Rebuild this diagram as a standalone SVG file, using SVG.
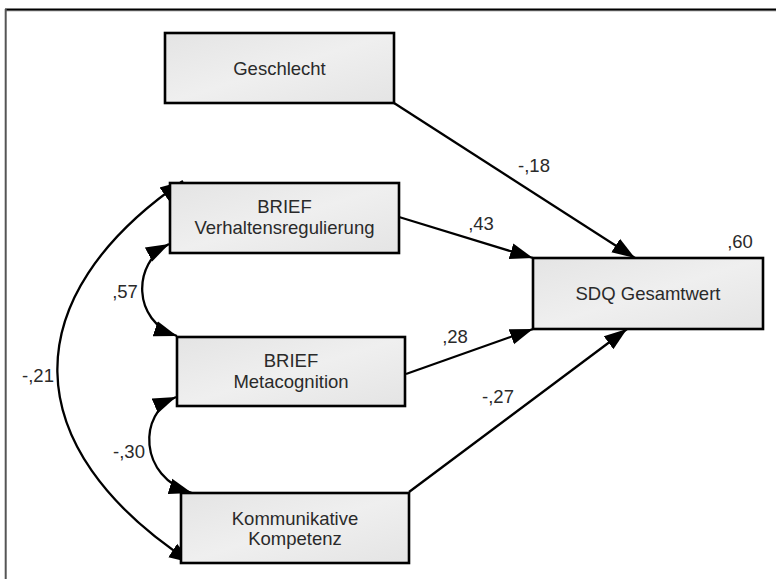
<svg xmlns="http://www.w3.org/2000/svg" width="776" height="579" viewBox="0 0 776 579">
<style>
.box{fill:url(#g);stroke:#000;stroke-width:2.6}
.t{font-family:"Liberation Sans",Arial,sans-serif;font-size:18.5px;fill:#2a2a2a;text-anchor:middle}
.c{fill:none;stroke:#000;stroke-width:2.3}
</style>
<defs>
<linearGradient id="g" x1="0" y1="0" x2="1" y2="1">
<stop offset="0" stop-color="#e4e4e4"/>
<stop offset="0.5" stop-color="#efefef"/>
<stop offset="1" stop-color="#e4e4e4"/>
</linearGradient>
<marker id="ah" markerUnits="userSpaceOnUse" viewBox="0 -9 24 18" refX="23" refY="0" markerWidth="24" markerHeight="18" orient="auto-start-reverse">
<path d="M0,-8 L23,0 L0,8 z" fill="#000"/>
</marker>
</defs>
<rect width="776" height="579" fill="#fff"/>
<g id="frame">
<line x1="5" y1="10.8" x2="776" y2="10.8" stroke="#888" stroke-width="1"/>
<line x1="5" y1="9.4" x2="776" y2="9.4" stroke="#000" stroke-width="2"/>
<line x1="5.7" y1="9" x2="5.7" y2="579" stroke="#555" stroke-width="2"/>
</g>
<g id="connectors">
<line class="c" x1="394" y1="103" x2="635" y2="258" marker-end="url(#ah)"/>
<line class="c" x1="399" y1="217" x2="533" y2="258" marker-end="url(#ah)"/>
<line class="c" x1="406" y1="374" x2="533" y2="329" marker-end="url(#ah)"/>
<line class="c" x1="409" y1="492" x2="627" y2="329" marker-end="url(#ah)"/>
<path class="c" d="M183,181 C14,297 14,447 192,563" marker-start="url(#ah)" marker-end="url(#ah)"/>
<path class="c" d="M169,244 C132,263 132,321 177,336" marker-start="url(#ah)" marker-end="url(#ah)"/>
<path class="c" d="M176,397 C138,413 138,477 192,493" marker-start="url(#ah)" marker-end="url(#ah)"/>
<text class="t" x="534" y="172">-,18</text>
<text class="t" x="481" y="230">,43</text>
<text class="t" x="740" y="248">,60</text>
<text class="t" x="455" y="343">,28</text>
<text class="t" x="498" y="403">-,27</text>
<text class="t" x="125" y="298">,57</text>
<text class="t" x="129" y="458">-,30</text>
<text class="t" x="38" y="382">-,21</text>
</g>
<g id="geschlecht">
<rect class="box" x="165" y="33" width="229" height="70"/>
<text class="t" x="279.5" y="75">Geschlecht</text>
</g>
<g id="verhaltensregulierung">
<rect class="box" x="170" y="183" width="229" height="70"/>
<text class="t" x="284.5" y="213">BRIEF</text>
<text class="t" x="284.5" y="234">Verhaltensregulierung</text>
</g>
<g id="metacognition">
<rect class="box" x="177" y="337" width="228" height="69"/>
<text class="t" x="291" y="367">BRIEF</text>
<text class="t" x="291" y="388">Metacognition</text>
</g>
<g id="kompetenz">
<rect class="box" x="181" y="493" width="228" height="70"/>
<text class="t" x="295" y="525">Kommunikative</text>
<text class="t" x="295" y="545">Kompetenz</text>
</g>
<g id="sdq">
<rect class="box" x="533" y="258" width="230" height="71"/>
<text class="t" x="648" y="300">SDQ Gesamtwert</text>
</g>
</svg>
